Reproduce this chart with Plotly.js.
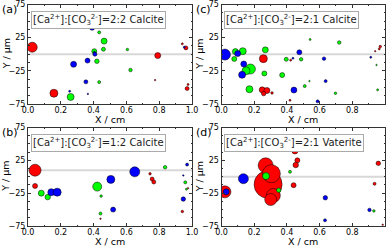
<!DOCTYPE html>
<html><head><meta charset="utf-8">
<script src="https://cdn.plot.ly/plotly-3.0.1.min.js"></script>
<style>html,body{margin:0;padding:0;background:#fff}#chart{width:390px;height:246px}</style>
</head><body><div id="chart"></div>
<script>
// ---------- data ----------
const panelLabels = ['(a)', '(c)', '(b)', '(d)'];
const boxTexts = [
  '[Ca<sup>2+</sup>]:[CO<sub>3</sub><sup>2-</sup>]=2:2 Calcite',
  '[Ca<sup>2+</sup>]:[CO<sub>3</sub><sup>2-</sup>]=2:1 Calcite',
  '[Ca<sup>2+</sup>]:[CO<sub>3</sub><sup>2-</sup>]=1:2 Calcite',
  '[Ca<sup>2+</sup>]:[CO<sub>3</sub><sup>2-</sup>]=2:1 Vaterite'
];
const xTitle = 'X / cm';
const yTitle = 'Y / \u03bcm';
const baselineY = [0, 0, 10, 0];
const xTickVals = [0, 0.2, 0.4, 0.6, 0.8, 1.0];
const xTickText = ['0.0', '0.2', '0.4', '0.6', '0.8', '1.0'];
const yTickVals = [-75, -25, 25, 75];
const yTickText = ['\u221275', '\u221225', '25', '75'];

// panel (a) 2:2 Calcite
const aRedX = [0.026, 0.158, 0.791, 0.775, 0.963, 0.941, 0.970, 0.976];
const aRedY = [10.6, -58.8, -2, -39, 9.6, 15.7, -51.7, -45.6];
const aRedS = [10, 8, 6, 1.5, 4, 2, 4, 2];
const aGreenX = [0.434, 0.464, 0.460, 0.404, 0.420, 0.606, 0.625, 0.434, 0.260];
const aGreenY = [33, 19.8, 7.6, 4.6, -10.6, 7.1, -23.8, -42, -64.4];
const aGreenS = [3, 6, 4, 5, 4.5, 2.5, 3.5, 3, 7];
const aBlueX = [0.391, 0.405, 0.408, 0.363, 0.278, 0.353, 0.254, 0.365, 0.953];
const aBlueY = [40, 3, 0, -9.6, -15.2, -41.6, -55.8, -59.8, 10.6];
const aBlueS = [5, 2, 4, 5, 6, 4, 2, 1.5, 2];

// panel (c) 2:1 Calcite
const cRedX = [0.256, 0.249, 0.278, 0.258, 0.309, 0.423, 0.419, 0.971, 0.965, 0.940];
const cRedY = [-6.6, -53.7, -54.7, -59.3, -58.3, -9, -69.4, 11.6, 8.1, 4.6];
const cRedS = [8, 6, 6, 4.5, 2.5, 2, 2, 2.5, 2, 1.5];
const cGreenX = [0.085, 0.130, 0.078, 0.177, 0.150, 0.171, 0.268, 0.262, 0.371, 0.396, 0.487, 0.542, 0.720, 0.509, 0.538, 0.697, 0.948, 0.955];
const cGreenY = [4, 4.6, -7, -22.3, -25, -52.7, 6.6, -29, -31.4, -7.6, -7.6, 22.3, 17.7, -48, -40.5, -58.8, -16.2, -53.7];
const cGreenS = [6, 7, 5, 10, 8, 7, 6, 5, 5, 4, 3.5, 2, 3.5, 3, 1.5, 2.5, 1.5, 2];
const cBlueX = [0.021, 0.099, 0.136, 0.126, 0.437, 0.476, 0.627, 0.443, 0.637, 0.588, 0.913];
const cBlueY = [-0.5, 1, -14.7, -31, -6, 3, -6.6, -54, -40.5, -71, -4.6];
const cBlueS = [11, 6, 6, 7, 2, 5, 3.5, 6, 3, 3, 2];

// panel (b) 1:2 Calcite
const bRedX = [0.043, 0.043, 0.442, 0.744, 0.757, 0.767, 0.976, 0.941];
const bRedY = [10, -14, -64, 4.5, -3.5, -8, -17.5, -53];
const bRedS = [12, 5, 1.5, 2.5, 4, 4, 1.5, 2.5];
const bGreenX = [0.081, 0.120, 0.422, 0.446, 0.442, 0.836, 0.959, 0.966];
const bGreenY = [-25, -31, -15, -29.5, -56, 14.5, -8.5, -19];
const bGreenS = [6, 5.5, 9, 2.5, 3, 3.5, 3, 2];
const bBlueX = [0.142, 0.178, 0.505, 0.651, 0.519, 0.970, 0.947, 0.947];
const bBlueY = [-23.5, -23.5, -4, 7.5, -50, 18.5, 2, -34];
const bBlueS = [7, 8, 8, 10, 5, 3, 1.5, 4.5];

// panel (d) 2:1 Vaterite
const dRedX = [0.021, 0.285, 0.270, 0.305, 0.317, 0.301, 0.435, 0.449, 0.464, 0.454, 0.441, 0.936, 0.959, 0.986];
const dRedY = [-23, -11.7, 17.4, 4.6, -28.6, -34.7, 45.4, 39.3, 25, 17.9, -12.8, -10.7, 20.4, -73];
const dRedS = [12, 28, 15, 18, 14, 12, 6, 6, 5, 5.5, 5, 3, 4.5, 1.5];
const dGreenX = [0.272, 0.350, 0.419, 0.932];
const dGreenY = [1, -20.4, 7.6, -52];
const dGreenS = [7, 4.5, 3, 2.5];
const dBlueX = [0.029, 0.134, 0.635, 0.633, 0.905];
const dBlueY = [-23, -3, -32, -66.3, -50.5];
const dBlueS = [6, 10, 4.5, 3, 3.5];

const panels = [
  {red:[aRedX,aRedY,aRedS], green:[aGreenX,aGreenY,aGreenS], blue:[aBlueX,aBlueY,aBlueS]},
  {red:[cRedX,cRedY,cRedS], green:[cGreenX,cGreenY,cGreenS], blue:[cBlueX,cBlueY,cBlueS]},
  {red:[bRedX,bRedY,bRedS], green:[bGreenX,bGreenY,bGreenS], blue:[bBlueX,bBlueY,bBlueS]},
  {red:[dRedX,dRedY,dRedS], green:[dGreenX,dGreenY,dGreenS], blue:[dBlueX,dBlueY,dBlueS]}
];
const colorMap = {red:'#ff0000', green:'#00ff00', blue:'#0000ff'};

// ---------- layout ----------
const W = 390, H = 246;
const colPx = [[28, 192], [221.5, 385]];
const rowPx = [[4.5, 104], [127.5, 226]];
const FONT = 'DejaVu Sans, sans-serif';

const traces = [];
const layout = {
  width: W, height: H, margin: {l:0, r:0, t:0, b:0},
  paper_bgcolor: '#fff', plot_bgcolor: '#fff', showlegend: false,
  font: {family: FONT, size: 8, color: '#000'},
  annotations: [], shapes: []
};
panels.forEach((p, i) => {
  const col = i % 2, row = Math.floor(i / 2);
  const n = i === 0 ? '' : String(i + 1);
  const xa = 'x' + n, ya = 'y' + n;
  const cp = colPx[col], rp = rowPx[row];
  layout['xaxis' + n] = {
    domain: [cp[0] / W, cp[1] / W], range: [0, 1], anchor: ya,
    tickvals: xTickVals, ticktext: xTickText, ticks: 'inside', ticklen: 3,
    tickcolor: '#333', showline: true, linecolor: '#333', linewidth: 1, mirror: 'ticks',
    showgrid: false, zeroline: false, tickfont: {size: 8, family: FONT},
    ticklabelstandoff: -2,
    minor: {ticks: 'inside', ticklen: 1.5, dtick: 0.1, tickcolor: '#333'}
  };
  layout['yaxis' + n] = {
    domain: [(H - rp[1]) / H, (H - rp[0]) / H], range: [-75, 75], anchor: xa,
    tickvals: yTickVals, ticktext: yTickText, ticks: 'inside', ticklen: 3,
    tickcolor: '#333', showline: true, linecolor: '#333', linewidth: 1, mirror: 'ticks',
    showgrid: false, zeroline: false, tickfont: {size: 8, family: FONT},
    minor: {ticks: 'inside', ticklen: 1.5, dtick: 12.5, tickcolor: '#333'}
  };
  // reference line
  traces.push({x: [0, 1], y: [baselineY[i], baselineY[i]], xaxis: xa, yaxis: ya,
    mode: 'lines', line: {color: '#d8d8d8', width: 2}, hoverinfo: 'skip'});
  ['red', 'green', 'blue'].forEach(c => {
    const d = p[c];
    traces.push({x: d[0], y: d[1], xaxis: xa, yaxis: ya, mode: 'markers',
      marker: {size: d[2], color: colorMap[c], line: {color: '#000', width: 0.5}, opacity: 1},
      cliponaxis: true, hoverinfo: 'skip'});
  });
  layout.annotations.push({
    text: boxTexts[i], xref: xa + ' domain', yref: ya + ' domain', x: 0.018, y: 0.935,
    xanchor: 'left', yanchor: 'top', showarrow: false, align: 'left',
    font: {size: 10, family: FONT, color: '#222'}, bgcolor: '#fff',
    bordercolor: '#aaa', borderwidth: 1, borderpad: 1
  });
  layout.annotations.push({
    text: panelLabels[i], xref: 'paper', yref: 'paper',
    x: (col === 0 ? 0 : 194) / W, y: (H - (row === 0 ? 1 : 124)) / H,
    xanchor: 'left', yanchor: 'top', showarrow: false,
    font: {size: 11, family: FONT, color: '#000'}
  });
  // axis titles
  layout.annotations.push({
    text: xTitle, xref: 'paper', yref: 'paper',
    x: ((cp[0] + cp[1]) / 2) / W, y: (H - (rp[1] + 15)) / H,
    xanchor: 'center', yanchor: 'middle', showarrow: false,
    font: {size: 9.5, family: FONT, color: '#000'}
  });
  layout.annotations.push({
    text: yTitle, xref: 'paper', yref: 'paper', textangle: -90,
    x: (cp[0] - 22) / W, y: (H - (rp[0] + rp[1]) / 2) / H,
    xanchor: 'center', yanchor: 'middle', showarrow: false,
    font: {size: 9.5, family: FONT, color: '#000'}
  });
});
Plotly.newPlot('chart', traces, layout, {staticPlot: true, displayModeBar: false});
</script></body></html>
